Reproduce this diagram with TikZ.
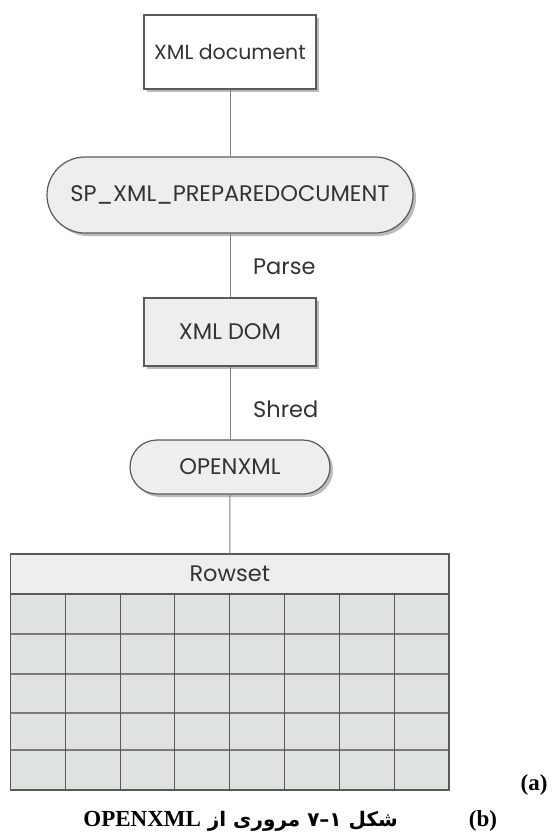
\documentclass[tikz,border=0pt]{standalone}
\usepackage{fontspec}
\setmainfont{Poppins}
\newfontfamily\capfont{Liberation Serif}
\newfontfamily\arabicfont[Script=Arabic]{DejaVu Sans}
\TeXXeTstate=1
\usetikzlibrary{shadows}
\definecolor{boxfill}{HTML}{EEEEEE}
\definecolor{cellfill}{HTML}{DEE3DF}
\definecolor{edgecol}{HTML}{5A5A5A}
\definecolor{conncol}{HTML}{808080}
\definecolor{txtcol}{HTML}{333333}
\definecolor{shadecol}{HTML}{BBBBBB}
\begin{document}
\begin{tikzpicture}[x=1pt,y=-1pt,
  diagtext/.style={font=\fontsize{22.5}{26}\selectfont, text=txtcol},
  myshadow/.style={drop shadow={shadow xshift=3pt, shadow yshift=-3pt, fill=shadecol, opacity=1}},
  plainbox/.style={diagtext, draw=edgecol, line width=1.2pt, fill=white, inner sep=0pt, myshadow},
  graybox/.style={plainbox, fill=boxfill},
  pill/.style={graybox},
  conn/.style={draw=conncol, line width=1pt},
  hline/.style={draw=edgecol!80, line width=1.1pt},
  vline/.style={draw=edgecol, line width=1.1pt},
  lbl/.style={diagtext, anchor=west, inner sep=0pt},
  capt/.style={font=\capfont\bfseries\fontsize{23}{27}\selectfont, inner sep=0pt}
]
\useasboundingbox (0,0) rectangle (552,835);

\node[plainbox, minimum width=172pt, minimum height=74pt, font=\fontsize{20.5}{24}\selectfont] (doc) at (230,52) {XML document};
\node[pill, minimum width=366pt, minimum height=76pt, rounded corners=38pt] (prep) at (230,195) {SP\_XML\_PREPAREDOCUMENT};
\node[graybox, minimum width=172pt, minimum height=68pt] (dom) at (230,332) {XML DOM};
\node[pill, minimum width=200pt, minimum height=54pt, rounded corners=27pt] (open) at (230,467) {OPENXML};

% table
\fill[cellfill] (10.5,594) rectangle (449,790);
\node[diagtext, draw=edgecol, line width=1.2pt, fill=boxfill, minimum width=438.5pt, minimum height=40pt, inner sep=0pt] (rowset) at (229.75,574) {Rowset};
\foreach \yy in {634,674,713,750} \draw[hline] (10.5,\yy) -- (449,\yy);
\foreach \i in {1,...,7} \draw[vline] ({10.5+\i*54.8125},594) -- ({10.5+\i*54.8125},790);
\draw[draw=edgecol, line width=1.2pt] (10.5,594) rectangle (449,790);

\draw[conn] (doc.south) -- (prep.north);
\draw[conn] (prep.south) -- (dom.north);
\draw[conn] (dom.south) -- (open.north);
\draw[conn] (open.south) -- (rowset.north);

\node[lbl] (parse) at (253,267) {Parse};
\node[lbl] (shred) at (253,409) {Shred};

\node[capt] (a) at (534,785) {(a)};
\node[capt] (b) at (483,821) {(b)};
\node[inner sep=0pt, anchor=east] (cap) at (398,821) {\arabicfont\bfseries\fontsize{20}{24}\selectfont\beginR شکل \beginL۱–۷\endL{} مروری از {\capfont\bfseries\fontsize{23}{27}\selectfont\beginL OPENXML\endL}\endR};
\end{tikzpicture}
\end{document}
